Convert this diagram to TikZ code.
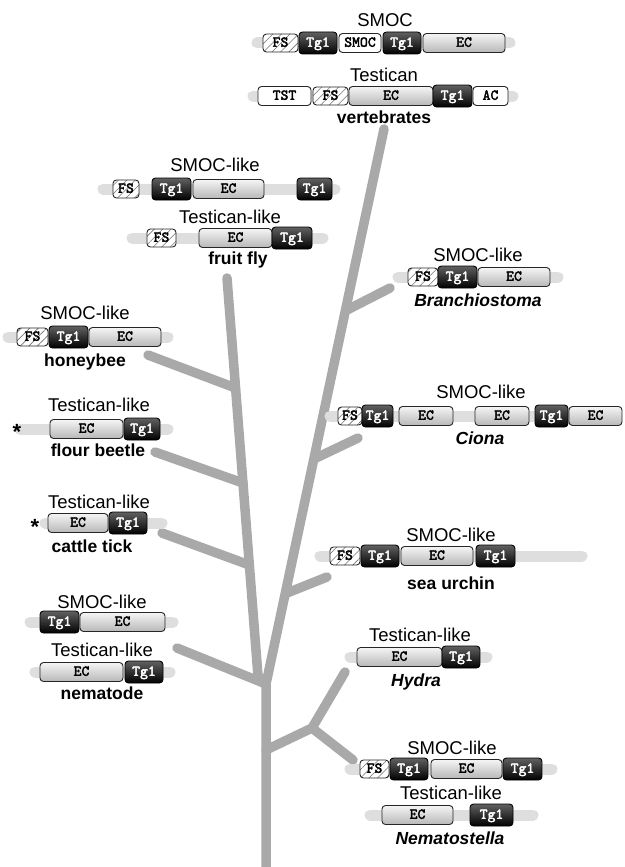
\documentclass[tikz,border=0pt]{standalone}
\usepackage{fontspec}
\setsansfont{Liberation Sans}
\newfontfamily\domfont[FakeBold=2.5]{lmmono10-regular.otf}
\usetikzlibrary{patterns.meta,calc}
\definecolor{treegray}{HTML}{A9A9A9}
\definecolor{bargray}{HTML}{DEDEDE}
\tikzset{
 dom/.style={draw=black!85, line width=0.9pt, rounded corners=3.5pt, inner sep=0pt, minimum height=19pt,
   font=\domfont\fontsize{15}{15}\selectfont, text height=9pt, text depth=1.5pt},
 tgone/.style={dom, draw=black, top color=black!62, bottom color=black, text=white, minimum height=22pt},
 ecbox/.style={dom, top color=black!4, bottom color=black!28},
 fsbox/.style={dom, minimum height=18pt, preaction={fill=white},
   pattern={Lines[angle=45,distance=6pt,line width=0.6pt]}, pattern color=black!55},
 wbox/.style={dom, fill=white},
 bar/.style={draw=bargray, line width=11pt, line cap=round},
 branch/.style={draw=treegray, line width=9.5pt, line cap=round, line join=round},
 ttl/.style={font=\sffamily\fontsize{18.5}{20}\selectfont, anchor=base, inner sep=0pt},
 spc/.style={font=\sffamily\bfseries\fontsize{17.5}{19}\selectfont, anchor=base, inner sep=0pt},
 spi/.style={font=\sffamily\bfseries\itshape\fontsize{17.5}{19}\selectfont, anchor=base, inner sep=0pt},
 starmark/.style={font=\sffamily\bfseries\fontsize{22}{22}\selectfont, anchor=base, inner sep=0pt},
}
\newcommand\dmn[6]{\node[#2, minimum width={(#4)-(#3)}] (#1) at ({((#3)+(#4))/2},#5) {#6};}
\begin{document}
\begin{tikzpicture}[x=1pt,y=-1pt]
\useasboundingbox (0,0) rectangle (624,867);
% ---------------- tree ----------------
\coordinate (root) at (266,867);
\coordinate (J) at (266,684);
\coordinate (vtop) at (384,129);
\coordinate (fftop) at (227,278);
\coordinate (lbot) at (258,676);
\coordinate (bA) at (347,310);  \coordinate (bE) at (390,288);
\coordinate (cA) at (316,458);  \coordinate (cE) at (358,438);
\coordinate (uA) at (287,593);  \coordinate (uE) at (327,577);
\coordinate (hA) at (235.6,388); \coordinate (hE) at (148,355);
\coordinate (fA) at (243,483);  \coordinate (fE) at (155,452);
\coordinate (tA) at (249.4,565); \coordinate (tE) at (162,533);
\coordinate (nE) at (177,648);
\coordinate (cnA) at (266,750); \coordinate (cnJ) at (312,728);
\coordinate (hyE) at (345,672); \coordinate (nsE) at (353,760);
\draw[branch] (root) -- (J) -- (vtop);
\draw[branch] (J) -- (lbot) -- (fftop);
\draw[branch] (bA) -- (bE);
\draw[branch] (cA) -- (cE);
\draw[branch] (uA) -- (uE);
\draw[branch] (hA) -- (hE);
\draw[branch] (fA) -- (fE);
\draw[branch] (tA) -- (tE);
\draw[branch] (J) -- (nE);
\draw[branch] (cnA) -- (cnJ) -- (hyE);
\draw[branch] (cnJ) -- (nsE);
% ---------------- vertebrates ----------------
\node[ttl] (tSMOC) at (385,26.5) {SMOC};
\draw[bar] (257,43) -- (510,43);
\dmn{a1}{fsbox}{263}{298}{43}{FS}
\dmn{a2}{tgone}{299}{337}{43}{Tg1}
\dmn{a3}{wbox}{339}{381}{43}{SMOC}
\dmn{a4}{tgone}{383}{421}{43}{Tg1}
\dmn{a5}{ecbox}{423}{505}{43}{EC}
\node[ttl] (tTest) at (384,81.5) {Testican};
\draw[bar] (253,96) -- (513,96);
\dmn{b1}{wbox}{258}{311}{96}{TST}
\dmn{b2}{fsbox}{313}{348}{96}{FS}
\dmn{b3}{ecbox}{349}{433}{96}{EC}
\dmn{b4}{tgone}{433}{472}{96}{Tg1}
\dmn{b5}{wbox}{473}{508}{96}{AC}
\node[spc] (sVert) at (384,123.5) {vertebrates};
% ---------------- fruit fly ----------------
\node[ttl] (tFF1) at (215,171.5) {SMOC-like};
\draw[bar] (103,189) -- (335,189);
\dmn{c1}{fsbox}{113}{139}{189}{FS}
\dmn{c2}{tgone}{152}{191}{189}{Tg1}
\dmn{c3}{ecbox}{193}{264}{189}{EC}
\dmn{c4}{tgone}{297}{332}{189}{Tg1}
\node[ttl] (tFF2) at (230,223.5) {Testican-like};
\draw[bar] (132,238) -- (323,238);
\dmn{d1}{fsbox}{147}{176}{238}{FS}
\dmn{d2}{ecbox}{199}{272}{238}{EC}
\dmn{d3}{tgone}{272}{312}{238}{Tg1}
\node[spc] (sFF) at (238,264.5) {fruit fly};
% ---------------- honeybee ----------------
\node[ttl] (tHB) at (85,319.5) {SMOC-like};
\draw[bar] (8,337) -- (168,337);
\dmn{e1}{fsbox}{17}{48}{337}{FS}
\dmn{e2}{tgone}{49}{88}{337}{Tg1}
\dmn{e3}{ecbox}{89}{161}{337}{EC}
\node[spc] (sHB) at (85,366.5) {honeybee};
% ---------------- flour beetle ----------------
\node[ttl] (tFB) at (99,411.5) {Testican-like};
\draw[bar] (20,429) -- (168,429);
\dmn{f1}{ecbox}{50}{123}{429}{EC}
\dmn{f2}{tgone}{124}{160}{429}{Tg1}
\node[starmark] (star1) at (17,439) {*};
\node[spc] (sFB) at (98,456.5) {flour beetle};
% ---------------- cattle tick ----------------
\node[ttl] (tCT) at (99,508.5) {Testican-like};
\draw[bar] (45,523) -- (162,523);
\dmn{g1}{ecbox}{48}{108}{523}{EC}
\dmn{g2}{tgone}{109}{147}{523}{Tg1}
\node[starmark] (star2) at (35,534) {*};
\node[spc] (sCT) at (92,552.5) {cattle tick};
% ---------------- nematode ----------------
\node[ttl] (tNM1) at (102,608.5) {SMOC-like};
\draw[bar] (30,622) -- (173,622);
\dmn{h1}{tgone}{40}{79}{622}{Tg1}
\dmn{h2}{ecbox}{80}{165}{622}{EC}
\node[ttl] (tNM2) at (102,656.5) {Testican-like};
\draw[bar] (35,672) -- (170,672);
\dmn{i1}{ecbox}{40}{123}{672}{EC}
\dmn{i2}{tgone}{125}{163}{672}{Tg1}
\node[spc] (sNM) at (102,699.5) {nematode};
% ---------------- Branchiostoma ----------------
\node[ttl] (tBR) at (478,261.5) {SMOC-like};
\draw[bar] (398,277) -- (558,277);
\dmn{j1}{fsbox}{408}{438}{277}{FS}
\dmn{j2}{tgone}{438}{477}{277}{Tg1}
\dmn{j3}{ecbox}{478}{550}{277}{EC}
\node[spi] (sBR) at (478,306.5) {Branchiostoma};
% ---------------- Ciona ----------------
\node[ttl] (tCI) at (481,398.5) {SMOC-like};
\draw[bar] (330,416) -- (615,416);
\dmn{k1}{fsbox}{338}{362}{416}{FS}
\dmn{k2}{tgone}{362}{393}{416}{Tg1}
\dmn{k3}{ecbox}{399}{453}{416}{EC}
\dmn{k4}{ecbox}{475}{529}{416}{EC}
\dmn{k5}{tgone}{535}{568}{416}{Tg1}
\dmn{k6}{ecbox}{569}{622}{416}{EC}
\node[spi] (sCI) at (480,444.5) {Ciona};
% ---------------- sea urchin ----------------
\node[ttl] (tSU) at (451,541.5) {SMOC-like};
\draw[bar] (320,556) -- (582,556);
\dmn{l1}{fsbox}{330}{360}{556}{FS}
\dmn{l2}{tgone}{361}{399}{556}{Tg1}
\dmn{l3}{ecbox}{401}{473}{556}{EC}
\dmn{l4}{tgone}{476}{515}{556}{Tg1}
\node[spc] (sSU) at (451,589.5) {sea urchin};
% ---------------- Hydra ----------------
\node[ttl] (tHY) at (420,641.5) {Testican-like};
\draw[bar] (350,657) -- (487,657);
\dmn{m1}{ecbox}{357}{442}{657}{EC}
\dmn{m2}{tgone}{442}{480}{657}{Tg1}
\node[spi] (sHY) at (416,686.5) {Hydra};
% ---------------- Nematostella ----------------
\node[ttl] (tNS1) at (452,754.5) {SMOC-like};
\draw[bar] (350,769) -- (552,769);
\dmn{n1}{fsbox}{360}{389}{769}{FS}
\dmn{n2}{tgone}{390}{428}{769}{Tg1}
\dmn{n3}{ecbox}{431}{502}{769}{EC}
\dmn{n4}{tgone}{503}{542}{769}{Tg1}
\node[ttl] (tNS2) at (451,799.5) {Testican-like};
\draw[bar] (370,815) -- (533,815);
\dmn{o1}{ecbox}{382}{453}{815}{EC}
\dmn{o2}{tgone}{470}{513}{815}{Tg1}
\node[spi] (sNS) at (450,844.5) {Nematostella};
\end{tikzpicture}
\end{document}
